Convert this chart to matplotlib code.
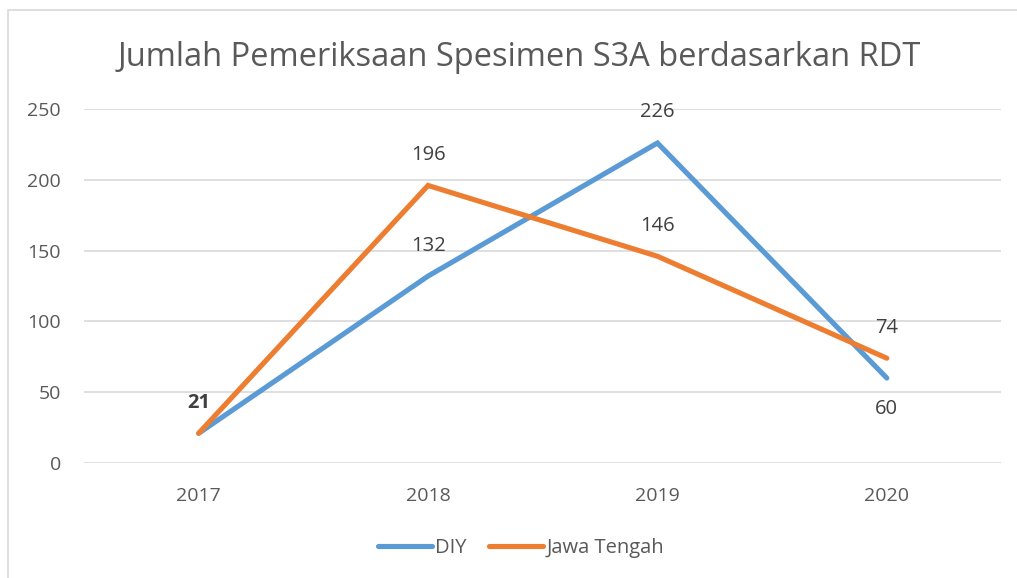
import matplotlib.pyplot as plt
import matplotlib.patches as patches

years = ['2017', '2018', '2019', '2020']
diy = [21, 132, 226, 60]
jateng = [21, 196, 146, 74]
# where the value label sits: 1 above the point, -1 below
diy_label_side = [1, 1, 1, -1]
jateng_label_side = [1, 1, 1, 1]

blue = '#5B9BD5'
orange = '#ED7D31'
tick_color = '#595959'
label_color = '#404040'

plt.rcParams['font.family'] = ['Open Sans', 'DejaVu Sans']

fig = plt.figure(figsize=(10.17, 5.78), dpi=100)
ax = fig.add_axes([84 / 1017, 1 - 463 / 578, 917.5 / 1017, 354 / 578])

x = list(range(len(years)))
ax.plot(x, diy, color=blue, linewidth=3.7, solid_capstyle='round',
        solid_joinstyle='miter', label='DIY', zorder=3)
ax.plot(x, jateng, color=orange, linewidth=3.7, solid_capstyle='round',
        solid_joinstyle='miter', label='Jawa Tengah', zorder=4)

for xi, v, s in zip(x, diy, diy_label_side):
    if xi == 0:
        continue
    ax.annotate(str(v), (xi, v), xytext=(0, 22 * s), textcoords='offset points',
                ha='center', va='center', fontsize=14.5, color=label_color)
for xi, v, s in zip(x, jateng, jateng_label_side):
    ax.annotate(str(v), (xi, v), xytext=(0, 22 * s), textcoords='offset points',
                ha='center', va='center', fontsize=14.5, color=label_color,
                fontweight='bold' if xi == 0 else 'normal')

ax.set_xlim(-0.5, len(years) - 0.5)
ax.set_ylim(0, 250)
ax.set_yticks(range(0, 251, 50))
ax.set_xticks(x)
ax.set_xticklabels(years)
ax.grid(axis='y', color='#D9D9D9', linewidth=1.2)
ax.set_axisbelow(True)
for sp in ax.spines.values():
    sp.set_visible(False)
ax.tick_params(length=0, labelsize=14, labelcolor=tick_color)
ax.tick_params(axis='y', pad=16.5)
ax.tick_params(axis='x', pad=17)

fig.text(519 / 1017, 1 - 57 / 578, 'Jumlah Pemeriksaan Spesimen S3A berdasarkan RDT',
         ha='center', va='center', fontsize=23.5, color=tick_color)

ax.legend(loc='center', bbox_to_anchor=(521 / 1017, 1 - 548 / 578),
          bbox_transform=fig.transFigure, ncol=2, frameon=False,
          fontsize=14.5, labelcolor=tick_color, handlelength=2.7,
          handletextpad=0.15, columnspacing=1.1)

# outer chart frame, cut off on the right and bottom
frame = patches.Rectangle((8 / 1017, -0.1), 1.2, 1 - 10 / 578 + 0.1,
                          transform=fig.transFigure, fill=False,
                          edgecolor='#D9D9D9', linewidth=1.2)
fig.patches.append(frame)

fig.savefig('out.png', dpi=100)
